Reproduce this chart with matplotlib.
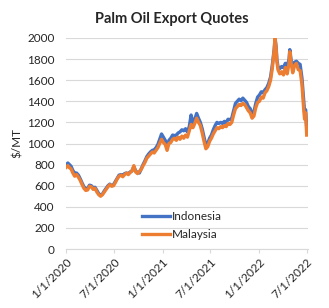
import matplotlib
matplotlib.use("Agg")
import matplotlib.pyplot as plt
import pandas as pd

# Palm oil export quotes, $/MT
dates = [
    "2020-01-02", "2020-01-08", "2020-01-14", "2020-01-20", "2020-01-27",
    "2020-02-03", "2020-02-10", "2020-02-17", "2020-02-24", "2020-03-02",
    "2020-03-09", "2020-03-16", "2020-03-23", "2020-03-30", "2020-04-06",
    "2020-04-13", "2020-04-20", "2020-04-27", "2020-05-04", "2020-05-11",
    "2020-05-18", "2020-05-25", "2020-06-01", "2020-06-08", "2020-06-15",
    "2020-06-22", "2020-06-29", "2020-07-06", "2020-07-13", "2020-07-20",
    "2020-07-27", "2020-08-03", "2020-08-10", "2020-08-17", "2020-08-24",
    "2020-08-31", "2020-09-07", "2020-09-14", "2020-09-21", "2020-09-28",
    "2020-10-05", "2020-10-12", "2020-10-19", "2020-10-26", "2020-11-02",
    "2020-11-09", "2020-11-16", "2020-11-23", "2020-11-30", "2020-12-07",
    "2020-12-14", "2020-12-21", "2020-12-28", "2021-01-04", "2021-01-11",
    "2021-01-18", "2021-01-25", "2021-02-01", "2021-02-08", "2021-02-15",
    "2021-02-22", "2021-03-01", "2021-03-08", "2021-03-15", "2021-03-22",
    "2021-03-29", "2021-04-05", "2021-04-12", "2021-04-19", "2021-04-26",
    "2021-05-03", "2021-05-10", "2021-05-17", "2021-05-24", "2021-05-31",
    "2021-06-07", "2021-06-14", "2021-06-21", "2021-06-28", "2021-07-05",
    "2021-07-12", "2021-07-19", "2021-07-26", "2021-08-02", "2021-08-09",
    "2021-08-16", "2021-08-23", "2021-08-30", "2021-09-06", "2021-09-13",
    "2021-09-20", "2021-09-27", "2021-10-04", "2021-10-11", "2021-10-18",
    "2021-10-25", "2021-11-01", "2021-11-08", "2021-11-15", "2021-11-22",
    "2021-11-29", "2021-12-06", "2021-12-13", "2021-12-20", "2021-12-27",
    "2022-01-03", "2022-01-10", "2022-01-17", "2022-01-24", "2022-01-31",
    "2022-02-07", "2022-02-14", "2022-02-21", "2022-02-28", "2022-03-03",
    "2022-03-07", "2022-03-10", "2022-03-14", "2022-03-21", "2022-03-28",
    "2022-04-04", "2022-04-11", "2022-04-18", "2022-04-25", "2022-04-28",
    "2022-05-03", "2022-05-09", "2022-05-16", "2022-05-23", "2022-05-30",
    "2022-06-06", "2022-06-13", "2022-06-20", "2022-06-23", "2022-06-27",
    "2022-07-01",
]

malaysia = [
    775, 790, 770, 760, 720, 690, 705, 680, 650, 610,
    575, 555, 560, 595, 590, 565, 575, 540, 515, 500,
    515, 540, 565, 590, 610, 595, 600, 630, 665, 690,
    700, 685, 705, 720, 705, 725, 740, 790, 730, 715,
    735, 755, 790, 820, 860, 880, 900, 920, 910, 935,
    960, 1000, 1040, 1010, 990, 935, 1000, 1010, 1040, 1050,
    1030, 1060, 1040, 1070, 1050, 1080, 1060, 1120, 1180, 1150,
    1190, 1240, 1200, 1170, 1100, 1020, 950, 970, 1020, 1050,
    1090, 1120, 1150, 1140, 1160, 1150, 1170, 1160, 1190, 1180,
    1200, 1270, 1330, 1350, 1370, 1360, 1380, 1370, 1340, 1310,
    1290, 1240, 1260, 1340, 1390, 1400, 1440, 1430, 1480, 1500,
    1540, 1600, 1720, 1890, 2000, 1900, 1780, 1700, 1660, 1680,
    1650, 1720, 1660, 1760, 1870, 1760, 1670, 1740, 1760, 1700,
    1690, 1560, 1310, 1230, 1290, 1080,
]

indonesia = [
    800, 815, 800, 785, 745, 715, 720, 700, 665, 625,
    590, 570, 575, 605, 600, 580, 585, 555, 525, 510,
    520, 550, 575, 600, 615, 600, 610, 640, 670, 700,
    705, 695, 715, 720, 715, 730, 740, 780, 740, 725,
    720, 760, 800, 835, 875, 900, 920, 935, 940, 960,
    990, 1040, 1090, 1060, 1030, 970, 1030, 1050, 1080, 1075,
    1080, 1100, 1110, 1130, 1120, 1140, 1110, 1160, 1270, 1190,
    1230, 1285, 1240, 1200, 1140, 1060, 985, 1000, 1050, 1080,
    1130, 1170, 1200, 1190, 1200, 1190, 1210, 1200, 1230, 1225,
    1240, 1310, 1380, 1400, 1420, 1405, 1430, 1410, 1390, 1350,
    1330, 1280, 1300, 1380, 1440, 1460, 1490, 1480, 1510, 1530,
    1570, 1630, 1750, 1900, 2000, 1920, 1800, 1730, 1710, 1730,
    1720, 1760, 1730, 1800, 1890, 1790, 1720, 1770, 1780, 1760,
    1750, 1620, 1400, 1300, 1320, 1140,
]

tick_dates = ["2020-01-01", "2020-07-01", "2021-01-01",
              "2021-07-01", "2022-01-01", "2022-07-01"]
tick_labels = ["1/1/2020", "7/1/2020", "1/1/2021",
               "7/1/2021", "1/1/2022", "7/1/2022"]

BLUE = "#4472c4"
ORANGE = "#ed7d31"
GRID = "#d9d9d9"
INK = "#262626"

plt.rcParams["font.family"] = ["Lato", "DejaVu Sans"]

x = pd.to_datetime(dates)

fig = plt.figure(figsize=(3.29, 3.08), dpi=100)
ax = fig.add_axes([66 / 329, 59 / 308, 241.5 / 329, 211 / 308])

ax.plot(x, indonesia, color=BLUE, linewidth=2.4, label="Indonesia", zorder=3)
ax.plot(x, malaysia, color=ORANGE, linewidth=2.4, label="Malaysia", zorder=4)

ax.set_ylim(0, 2000)
ax.set_yticks(range(0, 2001, 200))
ax.set_xlim(pd.Timestamp("2020-01-01"), pd.Timestamp("2022-07-04"))
ax.set_xticks(pd.to_datetime(tick_dates))
ax.set_xticklabels(tick_labels, rotation=45, ha="right", va="top",
                   rotation_mode="anchor")

ax.yaxis.grid(True, color=GRID, linewidth=0.8, zorder=0)
ax.set_axisbelow(True)
for s in ("top", "right", "left"):
    ax.spines[s].set_visible(False)
ax.spines["bottom"].set_color(GRID)
ax.tick_params(axis="y", length=0, labelsize=8.5, colors=INK, pad=8)
ax.tick_params(axis="x", length=3, color=GRID, labelsize=8.5, colors=INK, pad=2)

ax.set_ylabel("$/MT", fontsize=8.5, color=INK, labelpad=3)

fig.text(172 / 329, 1 - 19 / 308, "Palm Oil Export Quotes", ha="center",
         va="center", fontsize=10.5, fontweight="bold", color=INK)

ax.legend(loc="center", bbox_to_anchor=(0.48, 0.11), frameon=False,
          fontsize=8.5, handlelength=2.4, handletextpad=0.2,
          labelspacing=0.6, labelcolor=INK)

fig.savefig("out.png", dpi=100)
